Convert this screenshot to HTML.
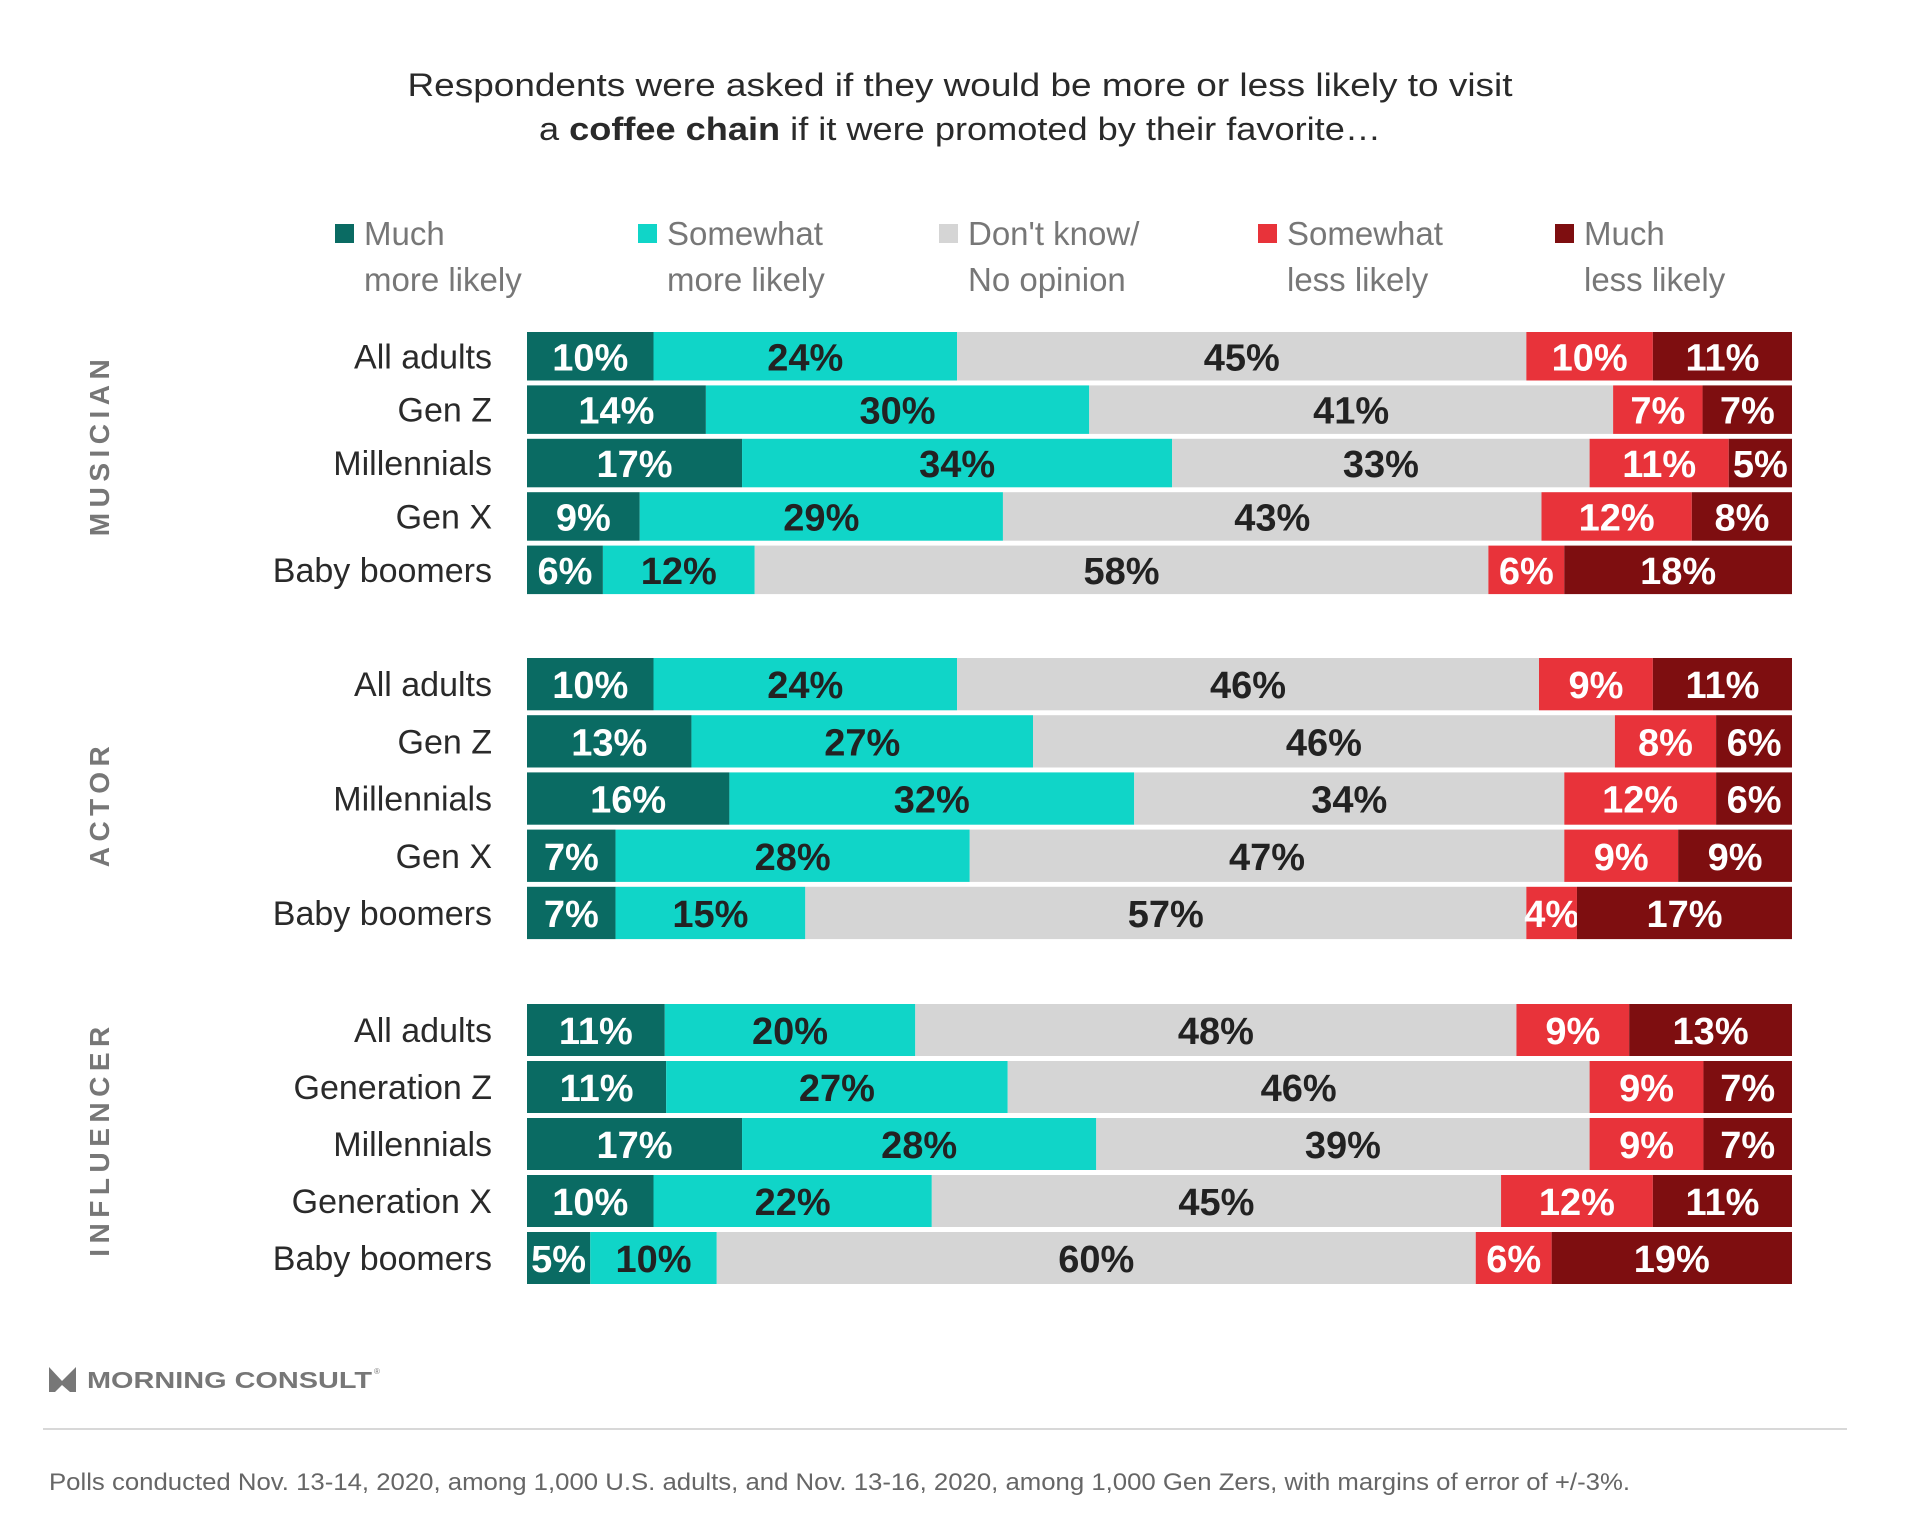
<!DOCTYPE html>
<html><head><meta charset="utf-8">
<style>
html,body{margin:0;padding:0;background:#fff;}
svg{display:block;font-family:"Liberation Sans",sans-serif;}
</style></head>
<body>
<svg id="chart" width="1920" height="1536" viewBox="0 0 1920 1536">
  <g fill="#2a2a2a" font-size="32" text-anchor="middle">
    <text x="960" y="96" textLength="1105" lengthAdjust="spacingAndGlyphs">Respondents were asked if they would be more or less likely to visit</text>
    <text x="960" y="140" textLength="842" lengthAdjust="spacingAndGlyphs">a <tspan font-weight="bold">coffee chain</tspan> if it were promoted by their favorite…</text>
  </g>
  <g id="legend"></g>
  <g id="bars"></g>
  <g>
    <path d="M49 1367 L62 1381 L76 1367 L76 1392 L70 1392 L62 1385 L55 1392 L49 1392 Z" fill="#777"/>
    <text x="87" y="1388" font-size="23" font-weight="bold" fill="#777" textLength="285" lengthAdjust="spacingAndGlyphs">MORNING CONSULT</text>
    <text x="374" y="1374" font-size="8" fill="#777">®</text>
  </g>
  <line x1="43" y1="1429" x2="1847" y2="1429" stroke="#d8d8d8" stroke-width="2"/>
  <text x="49" y="1490" font-size="24" fill="#666" textLength="1581" lengthAdjust="spacingAndGlyphs">Polls conducted Nov. 13-14, 2020, among 1,000 U.S. adults, and Nov. 13-16, 2020, among 1,000 Gen Zers, with margins of error of +/-3%.</text>
</svg>
<script>
const seriesNames = ["Much more likely","Somewhat more likely","Don't know/ No opinion","Somewhat less likely","Much less likely"];
const legendLine1 = ["Much","Somewhat","Don't know/","Somewhat","Much"];
const legendLine2 = ["more likely","more likely","No opinion","less likely","less likely"];
const groups = ["MUSICIAN","ACTOR","INFLUENCER"];
const musicianCategories = ["All adults","Gen Z","Millennials","Gen X","Baby boomers"];
const actorCategories = ["All adults","Gen Z","Millennials","Gen X","Baby boomers"];
const influencerCategories = ["All adults","Generation Z","Millennials","Generation X","Baby boomers"];
const musicianValues = [[10,24,45,10,11],[14,30,41,7,7],[17,34,33,11,5],[9,29,43,12,8],[6,12,58,6,18]];
const actorValues = [[10,24,46,9,11],[13,27,46,8,6],[16,32,34,12,6],[7,28,47,9,9],[7,15,57,4,17]];
const influencerValues = [[11,20,48,9,13],[11,27,46,9,7],[17,28,39,9,7],[10,22,45,12,11],[5,10,60,6,19]];

const colors = ["#0a6b63","#10d5c8","#d5d5d5","#e8333a","#7e0e10"];
const textColors = ["#fff","#222","#222","#fff","#fff"];
const NS = "http://www.w3.org/2000/svg";
function el(tag, attrs, parent){ const e=document.createElementNS(NS,tag); for(const k in attrs) e.setAttribute(k,attrs[k]); parent.appendChild(e); return e; }

const legend = document.getElementById('legend');
const legendX = [335,638,939,1258,1555];
seriesNames.forEach((s,i)=>{
  const g = el('g',{},legend);
  
  
  const r = el('rect',{x:legendX[i],y:224,width:19,height:19,fill:colors[i]},g);
  
  
  const t = el('text',{x:legendX[i]+29,y:245,'font-size':33,fill:'#777'},g);
  t.textContent = legendLine1[i];
  
  
  const t2 = el('text',{x:legendX[i]+29,y:291,'font-size':33,fill:'#777'},g);
  t2.textContent = legendLine2[i];
  
  
});

const X0 = 527, X1 = 1792;
function xScale(frac){ return X0 + frac*(X1-X0); }
const layout = [
  {cats:musicianCategories, vals:musicianValues, top:332, pitch:53.4, h:48.5, labelY:445},
  {cats:actorCategories, vals:actorValues, top:658, pitch:57.2, h:52.3, labelY:804},
  {cats:influencerCategories, vals:influencerValues, top:1004, pitch:57, h:52, labelY:1139}
];
const bars = document.getElementById('bars');
layout.forEach((L,gi)=>{
  const g = el('g',{},bars);
  
  
  const gl = el('text',{x:0,y:0,'font-size':28,'font-weight':'bold',fill:'#777','text-anchor':'middle','letter-spacing':5.5,transform:`translate(109 ${L.labelY}) rotate(-90)`},g);
  gl.textContent = groups[gi];
  
  
  L.cats.forEach((c,ri)=>{
    const y = L.top + ri*L.pitch;
    const cl = el('text',{x:492,y:y+L.h/2+12,'font-size':34,fill:'#2a2a2a','text-anchor':'end'},g);
    cl.textContent = c;
    
    
    const v = L.vals[ri];
    const total = v.reduce((a,b)=>a+b,0);
    let acc = 0;
    v.forEach((val,si)=>{
      const xa = xScale(acc/total), xb = xScale((acc+val)/total);
      acc += val;
      const r = el('rect',{x:xa,y:y,width:xb-xa,height:L.h,fill:colors[si]},g);
      
      
      const t = el('text',{x:(xa+xb)/2,y:y+L.h/2+14,'font-size':38,'font-weight':'bold',fill:textColors[si],'text-anchor':'middle'},g);
      t.textContent = val+'%';
      
      
    });
  });
});
</script>
</body></html>
